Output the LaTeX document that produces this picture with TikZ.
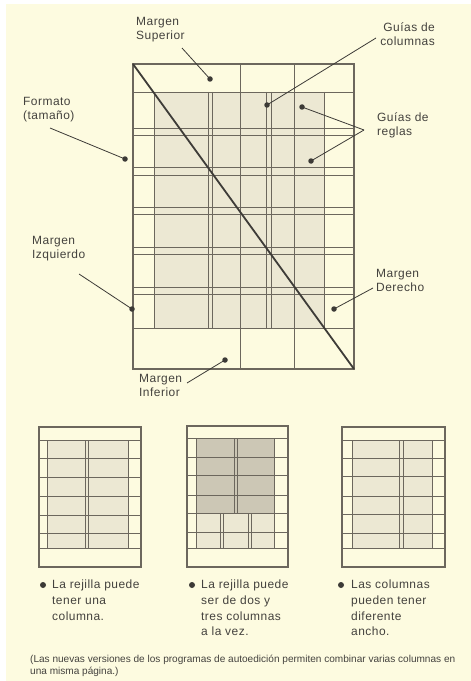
\documentclass[tikz,border=0pt]{standalone}
\usepackage{fontspec}
\newfontfamily\labfont{Liberation Sans}[LetterSpace=4]
\newfontfamily\notefont{Liberation Sans}
\definecolor{bgc}{RGB}{253,251,224}
\definecolor{shadec}{RGB}{236,232,211}
\definecolor{darkshadec}{RGB}{204,199,181}
\definecolor{linec}{RGB}{108,103,93}
\definecolor{diagc}{RGB}{62,60,56}
\definecolor{dotc}{RGB}{60,58,54}
\definecolor{textc}{RGB}{68,66,62}
\tikzset{
  gl/.style={draw=linec, line width=0.8bp},
  gls/.style={draw=linec, line width=1bp},
  frame/.style={draw=linec, line width=1.1bp},
  diag/.style={draw=diagc, line width=1.8bp},
  dot/.style={circle, fill=dotc, inner sep=0pt, minimum size=5.5bp},
  bullet/.style={circle, fill=dotc, inner sep=0pt, minimum size=6bp},
  leader/.style={draw=dotc, line width=0.8bp},
  lab/.style={inner sep=0pt, text=textc, font=\labfont\fontsize{12}{14.5}\selectfont},
  btxt/.style={inner sep=0pt, text=textc, align=left, font=\labfont\fontsize{12}{15.7}\selectfont},
}
\begin{document}
\begin{tikzpicture}[x=1bp,y=-1bp]
\useasboundingbox (0,0) rectangle (471,681);
\fill[white] (0,0) rectangle (471,681);
\fill[bgc] (6,4) rectangle (471,681);

% ---------- main page ----------
\fill[shadec] (154,92) rectangle (324,328);
\foreach \y in {92,128,135,167,175,207,214,247,254,287,294,328}
  \draw[gl] (133,\y) -- (354,\y);
\foreach \x in {240,294}
  \draw[gl] (\x,64) -- (\x,369);
\foreach \x in {154,208,212,266,271,324}
  \draw[gl] (\x,92) -- (\x,328);
\draw[frame] (133,64) rectangle (354,369);
\draw[diag] (133,64) -- (354,369);

% labels
\node[lab, anchor=north west, align=left] (tsup) at (136,17) {Margen\\Superior};
\node[lab, anchor=north east, align=right] (tcol) at (435,22) {Guías de\\columnas};
\node[lab, anchor=north west, align=left] (tfor) at (23,97) {Formato\\(tamaño)};
\node[lab, anchor=north west, align=left] (treg) at (377,112) {Guías de\\reglas};
\node[lab, anchor=north west, align=left] (tizq) at (32,236) {Margen\\Izquierdo};
\node[lab, anchor=north west, align=left] (tder) at (376,269) {Margen\\Derecho};
\node[lab, anchor=north west, align=left] (tinf) at (139,374) {Margen\\Inferior};

% dots
\node[dot] (dsup) at (210,79) {};
\node[dot] (dcol) at (267,105) {};
\node[dot] (dreg1) at (302,107) {};
\node[dot] (dreg2) at (311,161) {};
\node[dot] (dfor) at (125,159) {};
\node[dot] (dizq) at (132,309) {};
\node[dot] (dder) at (334,309) {};
\node[dot] (dinf) at (225,360) {};

% leader ends
\coordinate (lsup) at (182,48);
\coordinate (lcol) at (376,38);
\coordinate (lreg) at (364,130);
\coordinate (lfor) at (50,128);
\coordinate (lizq) at (79,274);
\coordinate (lder) at (373,288);
\coordinate (linf) at (187,383);

\draw[leader] (lsup) -- (dsup.center);
\draw[leader] (lcol) -- (dcol.center);
\draw[leader] (lreg) -- (dreg1.center);
\draw[leader] (lreg) -- (dreg2.center);
\draw[leader] (lfor) -- (dfor.center);
\draw[leader] (lizq) -- (dizq.center);
\draw[leader] (lder) -- (dder.center);
\draw[leader] (linf) -- (dinf.center);

% ---------- small page 1 ----------
\fill[shadec] (47,440) rectangle (128,548);
\foreach \y in {440,458,477,496,515,533,548}
  \draw[gl] (39,\y) -- (141,\y);
\foreach \x in {47,85,88,128}
  \draw[gls] (\x,440) -- (\x,548);
\draw[frame] (39,427) rectangle (141,567);

% ---------- small page 2 ----------
\fill[darkshadec] (196,438) rectangle (274,513);
\fill[shadec] (196,513) rectangle (274,548);
\foreach \y in {438,457,475,495,513,532,548}
  \draw[gl] (187,\y) -- (288,\y);
\foreach \x in {196,274}
  \draw[gls] (\x,438) -- (\x,548);
\foreach \x in {234,237}
  \draw[gls] (\x,438) -- (\x,513);
\foreach \x in {220,223,248,251}
  \draw[gls] (\x,513) -- (\x,548);
\draw[frame] (187,426) rectangle (288,567);

% ---------- small page 3 ----------
\fill[shadec] (352,440) rectangle (432,548);
\foreach \y in {440,458,476,496,514,533,548}
  \draw[gl] (342,\y) -- (445,\y);
\foreach \x in {352,399,403,432}
  \draw[gls] (\x,440) -- (\x,548);
\draw[frame] (342,427) rectangle (445,567);

% ---------- bullet texts ----------
\node[bullet] (b1) at (43,585) {};
\node[btxt, anchor=north west] (t1) at (52,580) {La rejilla puede\\tener una\\columna.};
\node[bullet] (b2) at (192,585) {};
\node[btxt, anchor=north west] (t2) at (201,580) {La rejilla puede\\ser de dos y\\tres columnas\\a la vez.};
\node[bullet] (b3) at (341,585) {};
\node[btxt, anchor=north west] (t3) at (351,580) {Las columnas\\pueden tener\\diferente\\ancho.};

% ---------- footnote ----------
\node[inner sep=0pt, anchor=north west, align=left, text=textc,
      font=\notefont\fontsize{10.1}{12}\selectfont] (note) at (30,655)
  {(Las nuevas versiones de los programas de autoedición permiten combinar varias columnas en\\una misma página.)};
\end{tikzpicture}
\end{document}
